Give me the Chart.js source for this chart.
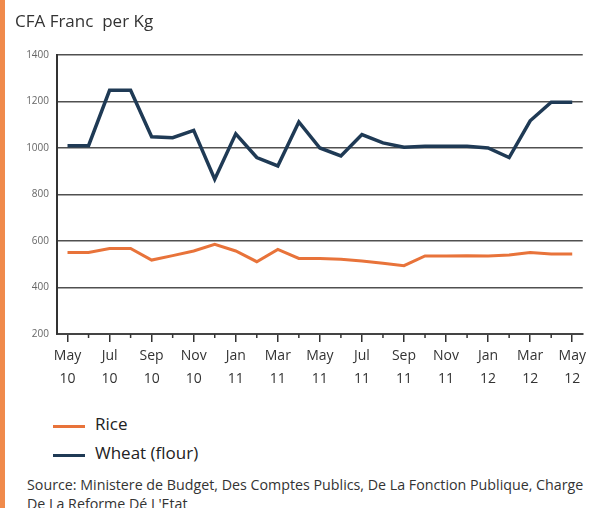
<!DOCTYPE html>
<html><head><meta charset="utf-8">
<script src="https://cdn.jsdelivr.net/npm/chart.js@4"></script>
<style>
html,body{margin:0;padding:0;background:#fff;}
#wrap{position:relative;width:589px;height:508px;overflow:hidden;background:#fff;}
#bar{position:absolute;left:0;top:0;width:5px;height:508px;background:#f08a4b;}
#cv{position:absolute;left:0;top:0;}
.leg{position:absolute;left:53px;font-family:"Open Sans",sans-serif;font-size:17px;line-height:20px;color:#222;white-space:nowrap;}
.leg span.sw{display:inline-block;width:32px;height:3px;vertical-align:middle;margin-right:10px;position:relative;top:1px;}
#src{position:absolute;left:27px;top:475px;font-family:"Open Sans",sans-serif;font-size:13px;line-height:19px;color:#333;white-space:nowrap;}
</style></head>
<body><div id="wrap"><div id="bar"></div><canvas id="cv" width="589" height="400"></canvas>
<div id="legend"></div>
<div id="src"><span id="s1">Source: Ministere de Budget, Des Comptes Publics, De La Fonction Publique, Charge</span><br>De La Reforme Dé L'Etat</div>
</div>
<script>
const months = ["May 10","Jun 10","Jul 10","Aug 10","Sep 10","Oct 10","Nov 10","Dec 10","Jan 11","Feb 11","Mar 11","Apr 11","May 11","Jun 11","Jul 11","Aug 11","Sep 11","Oct 11","Nov 11","Dec 11","Jan 12","Feb 12","Mar 12","Apr 12","May 12"];
const rice = [551,551,568,568,518,537,557,586,557,511,564,525,525,522,514,504,494,536,536,537,536,540,551,544,544];
const wheat = [1010,1010,1248,1248,1048,1044,1076,866,1061,959,923,1112,1000,966,1058,1022,1003,1007,1007,1007,1000,959,1117,1197,1197];
const yTicks = [200,400,600,800,1000,1200,1400];
const seriesNames = ["Rice","Wheat (flour)"];
const seriesColors = ["#e8733a","#1f3a55"];

const minorTicks = {
  id:'minorTicks',
  afterDraw(c){
    const s=c.scales.x, ctx=c.ctx;
    ctx.save();ctx.strokeStyle='#333';ctx.lineWidth=1.5;
    for(let i=1;i<s.ticks.length;i+=2){
      const x=s.getPixelForTick(i);
      ctx.beginPath();ctx.moveTo(x,s.top);ctx.lineTo(x,s.top+4);ctx.stroke();
    }
    ctx.restore();
  }
};

const chart = new Chart(document.getElementById('cv'), {
  type:'line',
  data:{labels:months,datasets:[
    {label:seriesNames[0],data:rice,borderColor:seriesColors[0],backgroundColor:seriesColors[0],borderWidth:3,pointRadius:0,tension:0},
    {label:seriesNames[1],data:wheat,borderColor:seriesColors[1],backgroundColor:seriesColors[1],borderWidth:3.5,pointRadius:0,tension:0}
  ]},
  plugins:[minorTicks],
  options:{
    responsive:false,animation:false,
    layout:{padding:{left:15,right:4,top:0,bottom:0}},
    plugins:{
      legend:{display:false},tooltip:{enabled:false},
      title:{display:true,text:"CFA Franc  per Kg",align:'start',color:'#333',
        font:{family:'Open Sans',size:17,weight:'normal',lineHeight:1.2},padding:{top:12,bottom:22.6}}
    },
    scales:{
      x:{offset:true,
        grid:{offset:false,drawOnChartArea:false,drawTicks:true,tickLength:8,
          tickColor:(ctx)=> ctx.index%2===0 ? '#333' : 'rgba(0,0,0,0)',lineWidth:1.5},
        border:{color:'#444',width:2},
        ticks:{autoSkip:false,maxRotation:0,padding:3,color:'#333',font:{family:'Open Sans',size:14,lineHeight:1.6},
          callback:(v,i)=> i%2===0 ? months[i].split(' ') : ''},
        afterFit:s=>{s.height=66;}
      },
      y:{min:yTicks[0],max:yTicks[yTicks.length-1],
        afterBuildTicks:s=>{s.ticks=yTicks.map(v=>({value:v}));},
        grid:{color:'#505050',lineWidth:1.5,drawTicks:false},
        border:{color:'#333',width:2},
        ticks:{padding:8,color:'#666',font:{family:'Open Sans',size:10},callback:v=>String(v)},
        afterFit:s=>{s.width=42;}
      }
    }
  }
});
const lg=document.getElementById('legend');
chart.data.datasets.forEach((d,i)=>{
  const el=document.createElement('div');el.className='leg';el.style.top=(414+i*29)+'px';
  el.innerHTML='<span class="sw" style="background:'+d.borderColor+'"></span>'+d.label;
  lg.appendChild(el);
});
const s1=document.getElementById('s1'), src=document.getElementById('src');
let fs=13; for(let k=0;k<20;k++){const w=s1.getBoundingClientRect().width; if(Math.abs(w-557)<2)break; fs*=557/w; src.style.fontSize=fs+'px';}
</script></body></html>
